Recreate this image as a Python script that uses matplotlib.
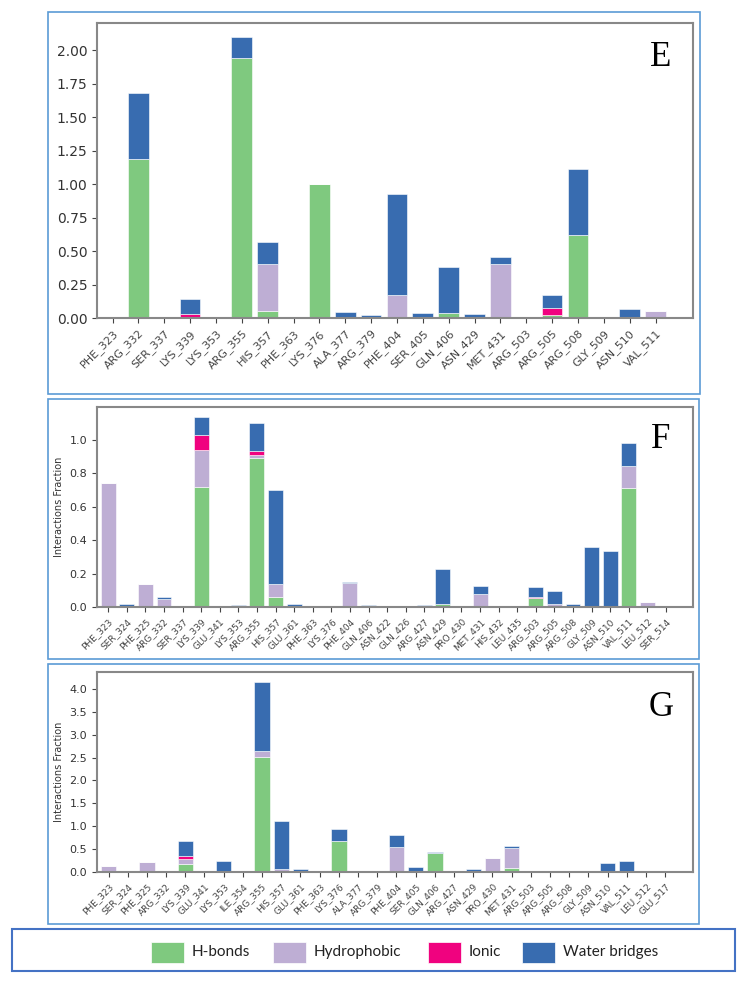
import numpy as np
import matplotlib.pyplot as plt
from matplotlib.patches import Rectangle

# couleurs (palette Accent)
c_hb = '#7fc97f'
c_hyd = '#beaed4'
c_ion = '#f0027f'
c_wb = '#386cb0'

# Panneau E
res_E = ['PHE_323', 'ARG_332', 'SER_337', 'LYS_339', 'LYS_353', 'ARG_355', 'HIS_357',
         'PHE_363', 'LYS_376', 'ALA_377', 'ARG_379', 'PHE_404', 'SER_405', 'GLN_406',
         'ASN_429', 'MET_431', 'ARG_503', 'ARG_505', 'ARG_508', 'GLY_509', 'ASN_510', 'VAL_511']
hb_E = [0, 1.19, 0, 0, 0, 1.94, 0.05, 0, 1.00, 0, 0, 0, 0, 0.04, 0, 0, 0, 0.02, 0.62, 0, 0, 0]
hyd_E = [0, 0, 0, 0, 0, 0, 0.35, 0, 0, 0, 0, 0.17, 0, 0, 0, 0.40, 0, 0, 0, 0, 0, 0.05]
ion_E = [0, 0, 0, 0.03, 0, 0, 0, 0, 0, 0, 0, 0, 0, 0, 0, 0, 0, 0.055, 0, 0, 0, 0]
wb_E = [0, 0.49, 0.005, 0.11, 0, 0.16, 0.17, 0, 0, 0.045, 0.025, 0.76, 0.04, 0.34,
        0.03, 0.055, 0.005, 0.10, 0.49, 0.01, 0.065, 0]

# Panneau F
res_F = ['PHE_323', 'SER_324', 'PHE_325', 'ARG_332', 'SER_337', 'LYS_339', 'GLU_341',
         'LYS_353', 'ARG_355', 'HIS_357', 'GLU_361', 'PHE_363', 'LYS_376', 'PHE_404',
         'GLN_406', 'ASN_422', 'GLN_426', 'ARG_427', 'ASN_429', 'PRO_430', 'MET_431',
         'HIS_432', 'LEU_435', 'ARG_503', 'ARG_505', 'ARG_508', 'GLY_509', 'ASN_510',
         'VAL_511', 'LEU_512', 'SER_514']
hb_F = [0, 0, 0, 0, 0, 0.72, 0, 0, 0.89, 0.06, 0, 0, 0, 0, 0, 0, 0, 0, 0.02, 0, 0,
        0, 0, 0.055, 0, 0, 0, 0, 0.71, 0, 0]
hyd_F = [0.74, 0, 0.135, 0.05, 0, 0.22, 0, 0, 0.02, 0.075, 0, 0, 0, 0.145, 0, 0, 0, 0,
         0, 0, 0.08, 0, 0, 0, 0.015, 0, 0, 0, 0.135, 0.03, 0]
ion_F = [0, 0, 0, 0, 0, 0.09, 0, 0, 0.025, 0, 0, 0, 0, 0, 0, 0, 0, 0, 0, 0, 0,
         0, 0, 0.003, 0.005, 0, 0, 0, 0, 0, 0]
wb_F = [0, 0.018, 0, 0.01, 0.005, 0.11, 0.008, 0.01, 0.165, 0.565, 0.02, 0, 0.008, 0.005,
        0.014, 0.003, 0.003, 0.012, 0.205, 0, 0.045, 0.006, 0, 0.062, 0.075, 0.017,
        0.36, 0.335, 0.135, 0, 0]

# Panneau G
res_G = ['PHE_323', 'SER_324', 'PHE_325', 'ARG_332', 'LYS_339', 'GLU_341', 'LYS_353',
         'ILE_354', 'ARG_355', 'HIS_357', 'GLU_361', 'PHE_363', 'LYS_376', 'ALA_377',
         'ARG_379', 'PHE_404', 'SER_405', 'GLN_406', 'ARG_427', 'ASN_429', 'PRO_430',
         'MET_431', 'ARG_503', 'ARG_505', 'ARG_508', 'GLY_509', 'ASN_510', 'VAL_511',
         'LEU_512', 'GLU_517']
hb_G = [0, 0, 0, 0, 0.18, 0, 0, 0, 2.52, 0, 0, 0, 0.68, 0, 0, 0, 0, 0.41, 0, 0, 0,
        0.08, 0, 0, 0, 0, 0, 0, 0, 0]
hyd_G = [0.13, 0, 0.21, 0, 0.10, 0, 0, 0, 0.12, 0.06, 0, 0, 0, 0, 0, 0.54, 0, 0, 0, 0,
         0.30, 0.45, 0, 0, 0, 0, 0, 0, 0, 0]
ion_G = [0, 0, 0, 0, 0.08, 0, 0, 0, 0, 0, 0, 0, 0, 0, 0, 0, 0, 0, 0, 0, 0,
         0, 0, 0, 0, 0, 0, 0, 0, 0]
wb_G = [0, 0.01, 0, 0.02, 0.32, 0, 0.25, 0.01, 1.52, 1.06, 0.06, 0.01, 0.25, 0.01, 0.01,
        0.27, 0.115, 0.025, 0, 0.055, 0, 0.035, 0, 0.01, 0, 0.03, 0.20, 0.23, 0, 0]

W, H = 750, 981
fig = plt.figure(figsize=(W / 100, H / 100), dpi=100)


def box(x0, y0, x1, y1, color='#5b9bd5', lw=1.2):
    # cadre en pixels (origine en haut a gauche)
    fig.patches.append(Rectangle((x0 / W, 1 - y1 / H), (x1 - x0) / W, (y1 - y0) / H,
                                 transform=fig.transFigure, fill=False,
                                 edgecolor=color, linewidth=lw))


def panneau(top, bottom, res, hb, hyd, ion, wb, lettre, lettre_y, fs_x, fs_y, ylabel):
    ax = fig.add_axes([97 / W, 1 - bottom / H, 596 / W, (bottom - top) / H])
    x = np.arange(len(res))
    hb = np.array(hb)
    hyd = np.array(hyd)
    ion = np.array(ion)
    wb = np.array(wb)
    kw = dict(width=0.8, edgecolor='white', linewidth=0.4)
    ax.bar(x, hb, color=c_hb, **kw)
    ax.bar(x, hyd, bottom=hb, color=c_hyd, **kw)
    ax.bar(x, ion, bottom=hb + hyd, color=c_ion, **kw)
    ax.bar(x, wb, bottom=hb + hyd + ion, color=c_wb, **kw)
    tot = hb + hyd + ion + wb
    ax.set_ylim(0, tot.max() * 1.05)
    ax.set_xlim(-0.6, len(res) + 0.45)
    ax.set_xticks(x)
    ax.set_xticklabels(res, rotation=45, ha='right', rotation_mode='anchor',
                       fontsize=fs_x, color='#444444')
    ax.tick_params(axis='y', labelsize=fs_y, labelcolor='#333333')
    ax.tick_params(length=3.5, color='#444444')
    for s in ax.spines.values():
        s.set_color('#888888')
        s.set_linewidth(1.5)
    if ylabel:
        ax.set_ylabel('Interactions Fraction', fontsize=7, color='#333333')
    fig.text(661 / W, 1 - lettre_y / H, lettre, fontsize=25, family='Liberation Serif',
             ha='center', va='center')
    return ax


box(48, 12.5, 700, 394)
box(48, 399, 699, 659)
box(48, 664, 699, 924)

axE = panneau(23, 318, res_E, hb_E, hyd_E, ion_E, wb_E, 'E', 57, 8, 10, False)
axE.set_yticks([0, 0.25, 0.5, 0.75, 1.0, 1.25, 1.5, 1.75, 2.0])
axE.set_yticklabels(['0.00', '0.25', '0.50', '0.75', '1.00', '1.25', '1.50', '1.75', '2.00'])
axF = panneau(407, 607, res_F, hb_F, hyd_F, ion_F, wb_F, 'F', 439, 6.5, 8, True)
axG = panneau(672, 872, res_G, hb_G, hyd_G, ion_G, wb_G, 'G', 707, 6.5, 8, True)

# legende
box(12, 929, 735, 971, color='#4472c4', lw=1.5)
noms = ['H-bonds', 'Hydrophobic', 'Ionic', 'Water bridges']
couleurs = [c_hb, c_hyd, c_ion, c_wb]
xs = [151, 273, 428, 522]
for nom, c, xp in zip(noms, couleurs, xs):
    fig.patches.append(Rectangle((xp / W, 1 - 963 / H), 33 / W, 21 / H,
                                 transform=fig.transFigure, facecolor=c,
                                 edgecolor='white', linewidth=0.5))
    fig.text((xp + 41) / W, 1 - 952 / H, nom, fontsize=11, family='Lato',
             ha='left', va='center', color='#222222')

fig.savefig('out.png', dpi=100)
